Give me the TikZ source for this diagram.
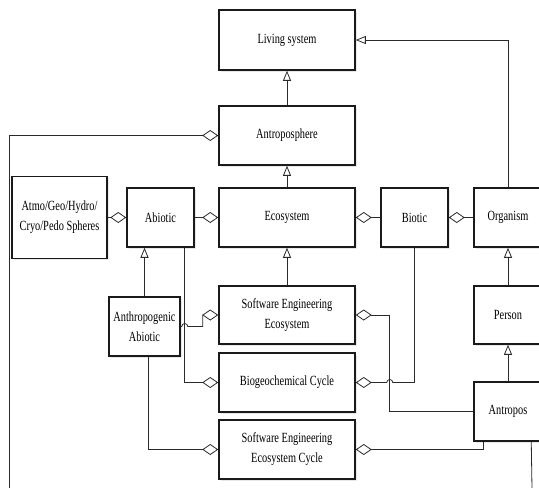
\documentclass[tikz,border=0pt]{standalone}
\usepackage{fontspec}
\setmainfont{Liberation Serif}[FakeStretch=0.74]
\usepackage{xcolor}
\usetikzlibrary{arrows.meta,calc,shadows}
\definecolor{border}{HTML}{1A1A1A}
\definecolor{wire}{HTML}{2A2A2A}
\tikzset{
  box/.style={draw=border, line width=1.5pt, fill=white, align=center,
    inner sep=0pt, font=\fontsize{14}{20}\selectfont,
    drop shadow={shadow xshift=1.5pt, shadow yshift=-1.5pt, opacity=0.18}},
  gen/.style={-{Triangle[open, length=10pt, width=8pt]}, line width=0.8pt, draw=wire},
  agg/.style={-{Diamond[open, length=16pt, width=11pt]}, line width=0.8pt, draw=wire},
  wireL/.style={line width=0.8pt, draw=wire}
}

\begin{document}
\begin{tikzpicture}[x=1pt,y=1pt]
  \useasboundingbox (0,0) rectangle (539,-488);

  % boxes
  \node[box, minimum width=136pt, minimum height=60pt] (living) at (287,-40) {Living system};
  \node[box, minimum width=136pt, minimum height=59pt] (antropo) at (287,-135.5) {Antroposphere};
  \node[box, minimum width=136pt, minimum height=59pt] (eco) at (287,-217.5) {Ecosystem};
  \node[box, minimum width=67pt, minimum height=59pt] (abiotic) at (160.5,-217.5) {Abiotic};
  \node[box, minimum width=95pt, minimum height=82pt] (spheres) at (59.5,-217.5) {Atmo/Geo/Hydro/\\Cryo/Pedo Spheres};
  \node[box, minimum width=67pt, minimum height=59pt] (biotic) at (414.5,-217.5) {Biotic};
  \node[box, minimum width=68pt, minimum height=59pt] (organism) at (508,-217.5) {Organism};
  \node[box, minimum width=68pt, minimum height=58pt] (person) at (508,-315) {Person};
  \node[box, minimum width=68pt, minimum height=59pt] (antropos) at (508,-411.5) {Antropos};
  \node[box, minimum width=71pt, minimum height=59pt] (anthabiotic) at (144.5,-326.5) {Anthropogenic\\Abiotic};
  \node[box, minimum width=136pt, minimum height=58pt] (see) at (287,-315) {Software Engineering\\Ecosystem};
  \node[box, minimum width=136pt, minimum height=59pt] (bio) at (287,-382.5) {Biogeochemical Cycle};
  \node[box, minimum width=136pt, minimum height=59pt] (seec) at (287,-449.5) {Software Engineering\\Ecosystem Cycle};

  % free ends and crossings
  \coordinate (leftend) at (9,-488);
  \coordinate (bottomend) at (532,-488);
  \coordinate (abioticline) at ($(abiotic.south east)+(-10,0)$);
  \coordinate (hopA) at (abioticline |- anthabiotic.east);
  \coordinate (seeturn) at ($(see.east)+(34,0)$);
  \coordinate (hopB) at (seeturn |- bio.east);

  % generalisation
  \draw[gen] (antropo) -- (living);
  \draw[gen] (eco) -- (antropo);
  \draw[gen] (organism.north) |- (living.east);
  \draw[gen] (see) -- (eco);
  \draw[gen] (person) -- (organism);
  \draw[gen] (antropos) -- (person);
  \draw[gen] (anthabiotic.north) -- (anthabiotic.north |- abiotic.south);

  % aggregation
  \draw[agg] (leftend) |- (antropo.west);
  \draw[agg] (spheres) -- (abiotic);
  \draw[agg] (abiotic) -- (eco);
  \draw[agg] (biotic) -- (eco);
  \draw[agg] (organism) -- (biotic);
  \draw[agg] (abioticline) |- (bio.west);
  \draw[agg] (anthabiotic.east) -- ($(hopA)+(-3,0)$) arc[start angle=180, end angle=0, radius=3]
    -- ($(hopA)+(18,0)$) |- (see.west);
  \draw[agg] ([xshift=3.5pt]anthabiotic.south) |- (seec.west);
  \draw[agg] (biotic.south) |- ($(hopB)+(3,0)$) arc[start angle=0, end angle=180, radius=3] -- (bio.east);
  \draw[agg] (antropos.west) -| (seeturn) -- (see.east);
  \draw[agg] ($(antropos.south west)+(10,0)$) |- (seec.east);
  \draw[wireL] ($(antropos.south west)+(58,0)$) -- (bottomend);
\end{tikzpicture}
\end{document}
